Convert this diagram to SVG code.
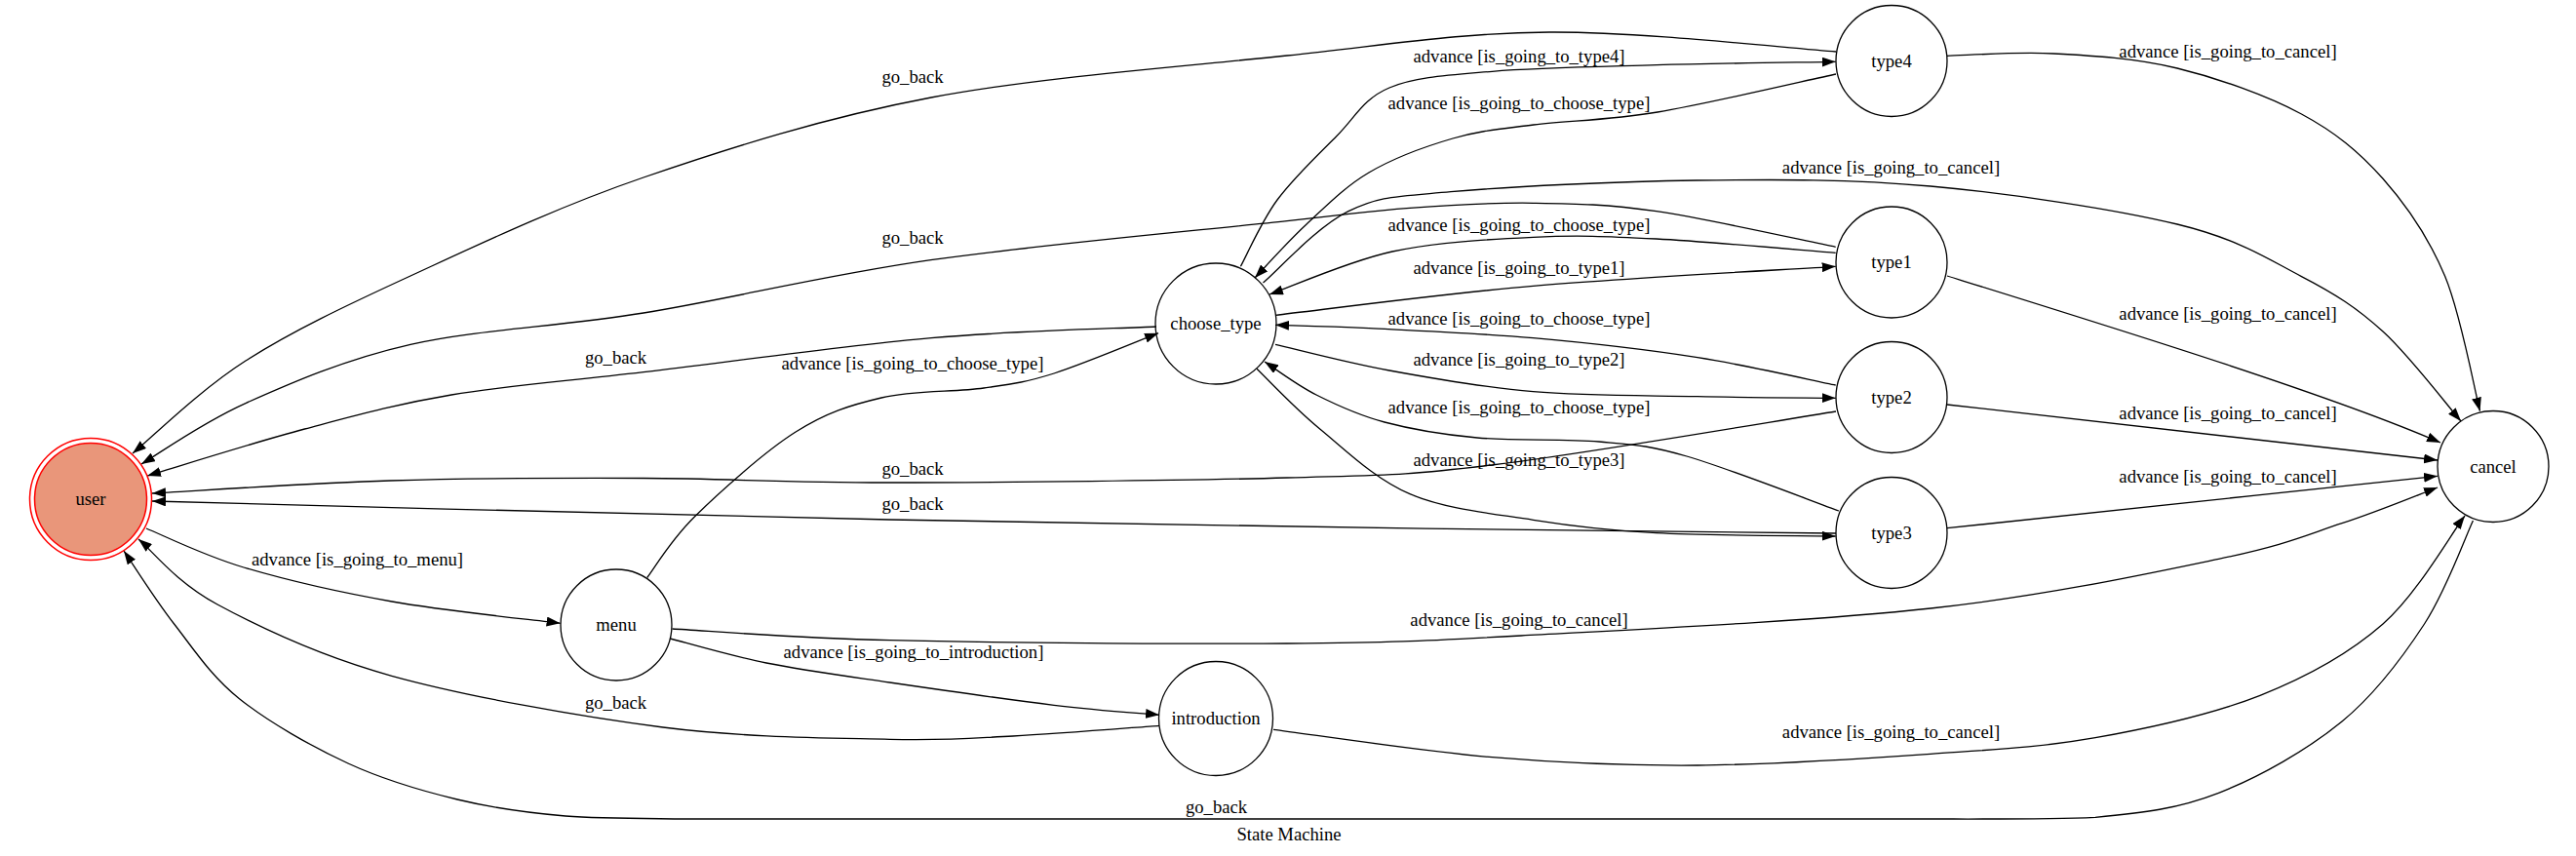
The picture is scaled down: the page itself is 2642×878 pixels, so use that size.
<svg xmlns="http://www.w3.org/2000/svg" width="2642" height="878" viewBox="0 0 2642 878">
<style>
.n{fill:none;stroke:#000;stroke-width:1.3}
.e{fill:none;stroke:#000;stroke-width:1.3;marker-end:url(#ah)}
text{font-family:"Liberation Serif","Times New Roman",serif;font-size:18.67px;fill:#000;text-anchor:middle}
</style>
<defs>
<marker id="ah" markerUnits="userSpaceOnUse" markerWidth="14" markerHeight="10" refX="14" refY="5" orient="auto" viewBox="0 0 14 10">
<path d="M0,0 L14,5 L0,10 z" fill="#000"/>
</marker>
</defs>
<rect width="2642" height="878" fill="#fff"/>
<g id="connectors">
<path id="e_user_menu" class="e" d="M150,542 C166.7,548.7 208,569.5 250,582 C292,594.5 347.9,607.4 402,617 C456.1,626.6 545.8,635.6 574.6,639.3"/>
<path id="e_menu_choose" class="e" d="M663.7,592.5 C671.8,582.1 687.1,554.9 712.4,530 C737.7,505.1 783.7,463.6 815.7,443.3 C847.7,423 871.8,415.6 904,408 C936.2,400.4 979.5,402.2 1009,398 C1038.5,393.8 1051.2,392.4 1081,383 C1110.8,373.6 1170.2,348.6 1188,341.7"/>
<path id="e_menu_intro" class="e" d="M687.4,655 C703.8,659.2 748.5,672.5 786,680 C823.5,687.5 863.3,692.8 912.5,700 C961.7,707.2 1034.9,717.7 1081,723.3 C1127.1,728.9 1171,731.6 1189,733.3"/>
<path id="e_menu_cancel" class="e" d="M689.5,645 C726.7,647 807.4,654.2 912.5,656.7 C1017.6,659.2 1212.1,660.8 1320,660 C1427.9,659.2 1450,658 1560,652 C1670,646 1860.7,637.1 1980,624 C2099.3,610.9 2205.2,587.9 2275.5,573.3 C2345.8,558.7 2364.6,548.9 2402,536.7 C2439.4,524.5 2483.7,506.1 2500,500"/>
<path id="e_intro_user" class="e" d="M1189,744.3 C1164,746.1 1085.1,752.7 1039,755 C992.9,757.3 972.3,759.8 912.5,758.3 C852.7,756.8 765.1,756.8 680,746 C594.9,735.2 478,714.3 401.8,693.3 C325.6,672.3 266.3,643.4 223,620 C179.7,596.6 155.5,564.2 142,553"/>
<path id="e_intro_cancel" class="e" d="M1306,748.3 C1343.4,753 1457.9,770.6 1530.4,776.7 C1602.9,782.8 1666.1,785.6 1741,785 C1815.9,784.4 1912,778 1980,773.3 C2048,768.6 2092.7,766.7 2149,756.7 C2205.3,746.7 2268.8,732.8 2318,713.3 C2367.2,693.8 2409,670.7 2444,640 C2479,609.3 2514,547.5 2528,529"/>
<path id="e_choose_user" class="e" d="M1186,335 C1147.5,337 1042.7,338.9 955,346.7 C867.3,354.5 742,372 660,381.7 C578,391.4 520.9,395.3 463,405 C405.1,414.7 364.5,426.2 312.5,440 C260.5,453.8 177.9,480 151,488"/>
<path id="e_choose_type1" class="e" d="M1308,323.3 C1352.1,318.3 1476.7,301.6 1572.5,293.3 C1668.3,285 1831,276.6 1882.7,273.3"/>
<path id="e_choose_type2" class="e" d="M1308,353.3 C1327.5,357.7 1380.9,371.9 1425,380 C1469.1,388.1 1519.8,397.2 1572.5,401.7 C1625.2,406.2 1689.3,405.6 1741,406.7 C1792.7,407.8 1859.1,408 1882.7,408.3"/>
<path id="e_choose_type3" class="e" d="M1289,378.3 C1299.8,388.6 1327.5,418.6 1353.7,440 C1379.9,461.4 1409.5,491.1 1446,506.7 C1482.5,522.3 1530.4,526.6 1572.5,533.3 C1614.6,540 1647.1,543.9 1698.8,546.7 C1750.5,549.5 1852,549.4 1882.7,550"/>
<path id="e_choose_type4" class="e" d="M1272.4,273.3 C1278.7,261.9 1293.6,227.2 1310,205 C1326.4,182.8 1351.3,159.2 1370.5,140 C1389.7,120.8 1398.3,101.1 1425,90 C1451.7,78.9 1484.8,77.2 1530.4,73.3 C1576,69.4 1640.1,68.4 1698.8,66.7 C1757.5,65 1852,63.9 1882.7,63.3"/>
<path id="e_choose_cancel" class="e" d="M1295.5,290 C1310.1,277.8 1350.9,232.3 1383,216.7 C1415.1,201.1 1428.5,202 1488,196.7 C1547.5,191.4 1658,186 1740,185 C1822,184 1897.8,183.5 1980,191 C2062.2,198.5 2169.7,214.6 2233,230 C2296.3,245.4 2324.8,265 2360,283.3 C2395.2,301.6 2416.7,315.2 2444,340 C2471.3,364.8 2510.7,416.7 2524,432"/>
<path id="e_type1_choose" class="e" d="M1882.7,259.3 C1852,256.9 1750.5,247.7 1698.8,245 C1647.1,242.3 1617.6,241.1 1572.5,243.3 C1527.4,245.5 1473.1,248.2 1428,258 C1382.9,267.8 1323,294.7 1302,302"/>
<path id="e_type2_choose" class="e" d="M1882.7,395 C1859.1,390.3 1792.7,374.8 1741,366.7 C1689.3,358.6 1628.7,351.7 1572.5,346.7 C1516.3,341.7 1448.1,338.9 1404,336.7 C1359.9,334.5 1324,333.9 1308,333.3"/>
<path id="e_type3_choose" class="e" d="M1886,524 C1860,514.7 1771,479.8 1730,468 C1689,456.2 1675.8,456.2 1640,453 C1604.2,449.8 1551.7,452.3 1515,449 C1478.3,445.7 1447.5,440.3 1420,433 C1392.5,425.7 1370.5,415.3 1350,405 C1329.5,394.7 1305.8,376.7 1297,371"/>
<path id="e_type4_choose" class="e" d="M1883,76 C1852.5,82.5 1751.7,106.3 1700,115 C1648.3,123.7 1608,123.5 1573,128 C1538,132.5 1518.2,133.8 1490,142 C1461.8,150.2 1429,162.3 1404,177 C1379,191.7 1359.5,212 1340,230 C1320.5,248 1295.8,275.8 1287,285"/>
<path id="e_type1_user" class="e" d="M1882.7,253.3 C1852,247.2 1750.5,224.2 1698.8,216.7 C1647.1,209.2 1614.6,208.9 1572.5,208.3 C1530.4,207.7 1488.1,210.2 1446,213.3 C1403.9,216.4 1401.9,217.8 1320,226.7 C1238.1,235.6 1064.6,251 954.6,266.7 C844.6,282.4 748.9,306.6 660,321 C571.1,335.4 488.9,337.9 421,353.3 C353.1,368.7 298.5,392.8 252.5,413.3 C206.5,433.8 162.9,465.5 145,476"/>
<path id="e_type2_user" class="e" d="M1883,422 C1824.2,431.2 1623.8,465.7 1530,477 C1436.2,488.3 1423,487 1320,490 C1217,493 1022,494.9 912,495 C802,495.1 745.3,490.8 660,490.5 C574.7,490.2 484,490.4 400,493 C316,495.6 196.7,503.8 156,506"/>
<path id="e_type3_user" class="e" d="M1883,547 C1600,545 1100,537 912,533 C700,528 400,521 156,514"/>
<path id="e_type4_user" class="e" d="M1883,53 C1834,49.7 1682.8,32.3 1589,33 C1495.2,33.7 1425.7,45.8 1320,57 C1214.3,68.2 1065,79.2 955,100 C845,120.8 749,151.5 660,182 C571,212.5 489,251.7 421,283 C353,314.3 299.5,339.7 252,370 C204.5,400.3 155.3,449.2 136,465"/>
<path id="e_type4_cancel" class="e" d="M1997,57.3 C2015.3,56.9 2067.3,52.9 2106.6,55 C2145.9,57.1 2190.8,59.7 2233,70 C2275.2,80.3 2324.8,97.8 2360,116.7 C2395.2,135.6 2419.4,155.5 2444,183.3 C2468.6,211.1 2491,243.6 2507.6,283.3 C2524.2,323 2537.5,398.6 2543.5,421.7"/>
<path id="e_type1_cancel" class="e" d="M1997,283 C2180,340 2390,405 2503,454"/>
<path id="e_type2_cancel" class="e" d="M1997,415 L2500,472"/>
<path id="e_type3_cancel" class="e" d="M1997,541.7 L2500,488.3"/>
<path id="e_cancel_user" class="e" d="M2536.4,534 C2528.1,551.7 2508.9,605.7 2486.5,640 C2464.1,674.3 2437.2,711.1 2402,740 C2366.8,768.9 2317.7,796.9 2275.5,813.3 C2233.3,829.7 2198.3,833.8 2149,838.3 C2100,840.5 2030,840 1980,840 L700,840 C680,839.5 618.5,840 580,837 C541.5,833.7 506.2,829 469,820 C431.8,811 394.3,800.2 357,783 C319.8,765.8 275.2,740.5 245.5,716.7 C215.8,692.9 198.4,665.3 178.6,640 C158.8,614.7 135.6,577.5 127,565"/>
</g>
<g id="edge-labels">
<text x="366.5" y="580">advance [is_going_to_menu]</text>
<text x="936" y="379">advance [is_going_to_choose_type]</text>
<text x="937" y="675">advance [is_going_to_introduction]</text>
<text x="1558" y="642">advance [is_going_to_cancel]</text>
<text x="631.5" y="727">go_back</text>
<text x="1939.5" y="757">advance [is_going_to_cancel]</text>
<text x="631.5" y="373">go_back</text>
<text x="1558" y="281">advance [is_going_to_type1]</text>
<text x="1558" y="375">advance [is_going_to_type2]</text>
<text x="1558" y="478">advance [is_going_to_type3]</text>
<text x="1558" y="64">advance [is_going_to_type4]</text>
<text x="1939.5" y="178">advance [is_going_to_cancel]</text>
<text x="1558" y="237">advance [is_going_to_choose_type]</text>
<text x="1558" y="333">advance [is_going_to_choose_type]</text>
<text x="1558" y="424">advance [is_going_to_choose_type]</text>
<text x="1558" y="112">advance [is_going_to_choose_type]</text>
<text x="936" y="250">go_back</text>
<text x="936" y="486.5">go_back</text>
<text x="936" y="523">go_back</text>
<text x="936" y="85">go_back</text>
<text x="2285" y="58.5">advance [is_going_to_cancel]</text>
<text x="2285" y="328">advance [is_going_to_cancel]</text>
<text x="2285" y="429.5">advance [is_going_to_cancel]</text>
<text x="2285" y="494.5">advance [is_going_to_cancel]</text>
<text x="1247.5" y="834">go_back</text>
</g>
<g id="user">
<circle cx="93" cy="512" r="62.5" fill="none" stroke="#ff0000" stroke-width="1.5"/>
<circle cx="93" cy="512" r="57.5" fill="#e9967a" stroke="#ff0000" stroke-width="1.5"/>
<text x="93" y="518">user</text>
</g>
<g id="menu">
<circle class="n" cx="632" cy="641" r="57"/>
<text x="632" y="647">menu</text>
</g>
<g id="choose_type">
<circle class="n" cx="1247" cy="332" r="62"/>
<text x="1247" y="338">choose_type</text>
</g>
<g id="introduction">
<circle class="n" cx="1247" cy="737" r="58.5"/>
<text x="1247" y="743">introduction</text>
</g>
<g id="type4">
<circle class="n" cx="1940" cy="62.5" r="57"/>
<text x="1940" y="68.5">type4</text>
</g>
<g id="type1">
<circle class="n" cx="1940" cy="269" r="57"/>
<text x="1940" y="275">type1</text>
</g>
<g id="type2">
<circle class="n" cx="1940" cy="407.5" r="57"/>
<text x="1940" y="413.5">type2</text>
</g>
<g id="type3">
<circle class="n" cx="1940" cy="546.5" r="57"/>
<text x="1940" y="552.5">type3</text>
</g>
<g id="cancel">
<circle class="n" cx="2557" cy="478.5" r="57"/>
<text x="2557" y="484.5">cancel</text>
</g>
<text id="title" x="1322" y="862">State Machine</text>
</svg>
